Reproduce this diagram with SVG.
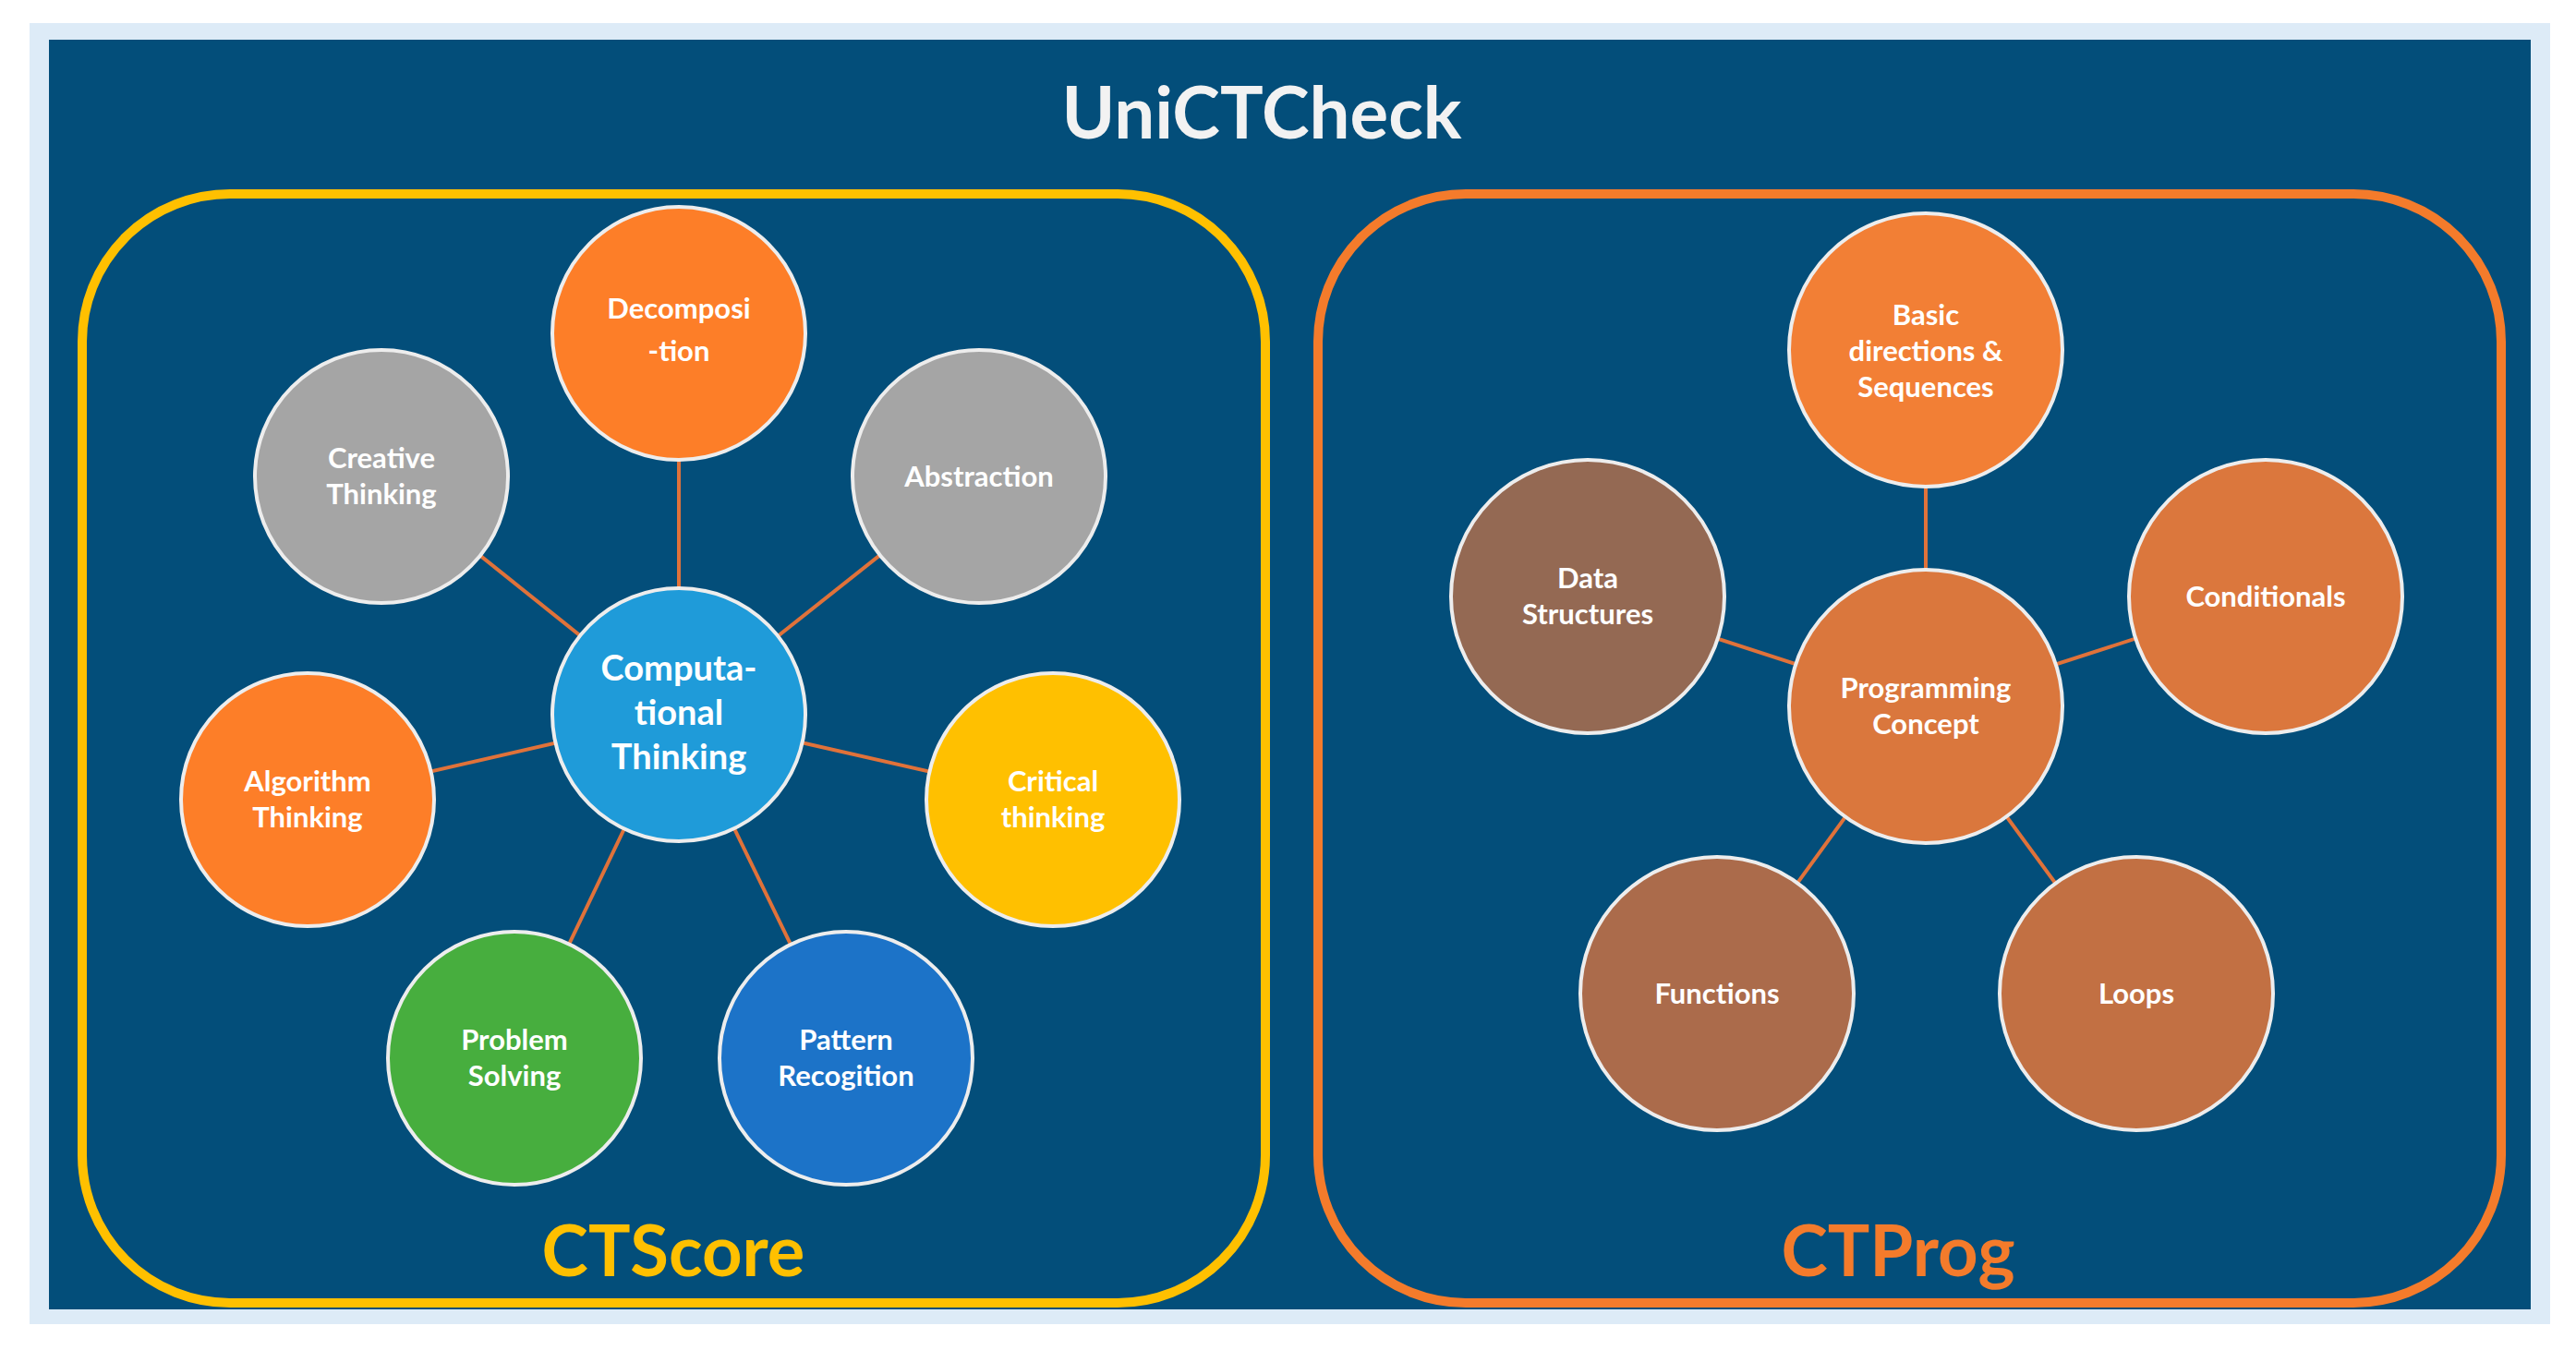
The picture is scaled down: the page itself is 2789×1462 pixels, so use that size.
<svg xmlns="http://www.w3.org/2000/svg" width="2789" height="1462" viewBox="0 0 2789 1462">
<style>
.n{stroke:#EDEDED;stroke-width:4}
.t{font-family:Lato,"Open Sans","Liberation Sans",sans-serif;font-weight:bold;fill:#FFFFFF;font-size:31px;text-anchor:middle}
.c line{stroke:#E0723A;stroke-width:4}
</style>
<rect x="0" y="0" width="2789" height="1462" fill="#FFFFFF"/>
<rect x="32" y="25" width="2729" height="1409" fill="#DDEBF7"/>
<rect x="53" y="43" width="2687" height="1375" fill="#034E7A"/>
<text x="1366" y="150" class="t" style="font-size:78px;fill:#F2F2F2">UniCTCheck</text>
<rect id="ctscore-box" x="89" y="210" width="1281" height="1201" rx="160" fill="none" stroke="#FFC000" stroke-width="10"/>
<rect id="ctprog-box" x="1427" y="210" width="1281" height="1201" rx="160" fill="none" stroke="#F47B2B" stroke-width="10"/>
<text x="729" y="1382" class="t" style="font-size:76px;fill:#FFC000">CTScore</text>
<text x="2055" y="1382" class="t" style="font-size:76px;fill:#F47B2B">CTProg</text>
<g class="c" id="connectors">
<line x1="735" y1="774" x2="735" y2="361"/>
<line x1="735" y1="774" x2="413" y2="516"/>
<line x1="735" y1="774" x2="1060" y2="516"/>
<line x1="735" y1="774" x2="333" y2="866"/>
<line x1="735" y1="774" x2="1140" y2="866"/>
<line x1="735" y1="774" x2="557" y2="1146"/>
<line x1="735" y1="774" x2="916" y2="1146"/>
<line x1="2085" y1="765" x2="2085" y2="379"/>
<line x1="2085" y1="765" x2="1719" y2="646"/>
<line x1="2085" y1="765" x2="2453" y2="646"/>
<line x1="2085" y1="765" x2="1859" y2="1076"/>
<line x1="2085" y1="765" x2="2313" y2="1076"/>
</g>
<g id="decomposition"><circle class="n" cx="735" cy="361" r="137" fill="#FD7E28"/><text class="t" x="735" y="345">Decomposi</text><text class="t" x="735" y="391">-tion</text></g>
<g id="creative"><circle class="n" cx="413" cy="516" r="137" fill="#A5A5A5"/><text class="t" x="413" y="507">Creative</text><text class="t" x="413" y="546">Thinking</text></g>
<g id="abstraction"><circle class="n" cx="1060" cy="516" r="137" fill="#A5A5A5"/><text class="t" x="1060" y="527">Abstraction</text></g>
<g id="computational"><circle class="n" cx="735" cy="774" r="137" fill="#1F9BD9"/><text class="t" style="font-size:38px" x="735" y="737">Computa-</text><text class="t" style="font-size:38px" x="735" y="785">tional</text><text class="t" style="font-size:38px" x="735" y="833">Thinking</text></g>
<g id="algorithm"><circle class="n" cx="333" cy="866" r="137" fill="#FD7E28"/><text class="t" x="333" y="857">Algorithm</text><text class="t" x="333" y="896">Thinking</text></g>
<g id="critical"><circle class="n" cx="1140" cy="866" r="137" fill="#FFC000"/><text class="t" x="1140" y="857">Critical</text><text class="t" x="1140" y="896">thinking</text></g>
<g id="problem"><circle class="n" cx="557" cy="1146" r="137" fill="#47AE3E"/><text class="t" x="557" y="1137">Problem</text><text class="t" x="557" y="1176">Solving</text></g>
<g id="pattern"><circle class="n" cx="916" cy="1146" r="137" fill="#1C73C8"/><text class="t" x="916" y="1137">Pattern</text><text class="t" x="916" y="1176">Recogition</text></g>
<g id="basic"><circle class="n" cx="2085" cy="379" r="148" fill="#F27F35"/><text class="t" x="2085" y="352">Basic</text><text class="t" x="2085" y="391">directions &amp;</text><text class="t" x="2085" y="430">Sequences</text></g>
<g id="data"><circle class="n" cx="1719" cy="646" r="148" fill="#946953"/><text class="t" x="1719" y="637">Data</text><text class="t" x="1719" y="676">Structures</text></g>
<g id="conditionals"><circle class="n" cx="2453" cy="646" r="148" fill="#DB773D"/><text class="t" x="2453" y="657">Conditionals</text></g>
<g id="programming"><circle class="n" cx="2085" cy="765" r="148" fill="#DA773D"/><text class="t" x="2085" y="756">Programming</text><text class="t" x="2085" y="795">Concept</text></g>
<g id="functions"><circle class="n" cx="1859" cy="1076" r="148" fill="#AB6B4B"/><text class="t" x="1859" y="1087">Functions</text></g>
<g id="loops"><circle class="n" cx="2313" cy="1076" r="148" fill="#C27043"/><text class="t" x="2313" y="1087">Loops</text></g>
</svg>
